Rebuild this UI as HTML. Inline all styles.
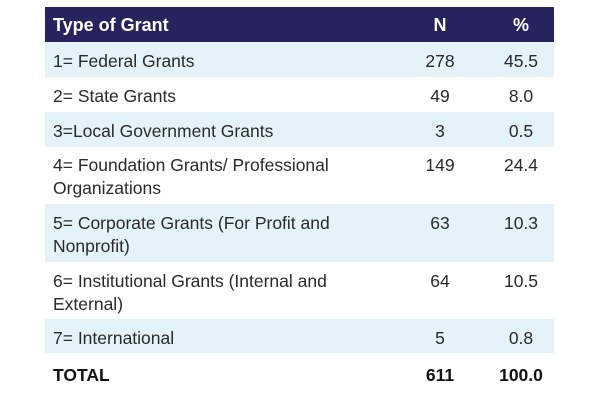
<!DOCTYPE html>
<html><head><style>
body{margin:0;width:600px;height:400px;background:#fff;font-family:"Liberation Sans",sans-serif;position:relative;overflow:hidden}
.r{position:absolute;left:45px;width:509px;color:#2a2a2a;font-size:17.5px}
.b{background:#e4f3f9}
.t{position:absolute;left:8px;line-height:23px}
.n{position:absolute;left:370px;width:50px;text-align:center;line-height:23px}
.p{position:absolute;left:448px;width:56px;text-align:center;line-height:23px}
</style></head><body>
<div class="r" style="top:7px;height:35px;background:#27235c;color:#fff;font-weight:bold;font-size:18px"><div class="t" style="top:7px">Type of Grant</div><div class="n" style="top:7px">N</div><div class="p" style="top:7px">%</div></div>
<div class="r b" style="top:42px;height:35px"><div class="t" style="top:8px">1= Federal Grants</div><div class="n" style="top:8px">278</div><div class="p" style="top:8px">45.5</div></div>
<div class="r" style="top:77px;height:35px"><div class="t" style="top:8px">2= State Grants</div><div class="n" style="top:8px">49</div><div class="p" style="top:8px">8.0</div></div>
<div class="r b" style="top:112px;height:35px"><div class="t" style="top:8px">3=Local Government Grants</div><div class="n" style="top:8px">3</div><div class="p" style="top:8px">0.5</div></div>
<div class="r" style="top:147px;height:57px"><div class="t" style="top:7px">4= Foundation Grants/ Professional<br>Organizations</div><div class="n" style="top:7px">149</div><div class="p" style="top:7px">24.4</div></div>
<div class="r b" style="top:204px;height:58px"><div class="t" style="top:8px">5= Corporate Grants (For Profit and<br>Nonprofit)</div><div class="n" style="top:8px">63</div><div class="p" style="top:8px">10.3</div></div>
<div class="r" style="top:262px;height:57px"><div class="t" style="top:8px">6= Institutional Grants (Internal and<br>External)</div><div class="n" style="top:8px">64</div><div class="p" style="top:8px">10.5</div></div>
<div class="r b" style="top:319px;height:34px"><div class="t" style="top:8px">7= International</div><div class="n" style="top:8px">5</div><div class="p" style="top:8px">0.8</div></div>
<div class="r" style="top:353px;height:39px;font-weight:bold;color:#111"><div class="t" style="top:11px">TOTAL</div><div class="n" style="top:11px">611</div><div class="p" style="top:11px">100.0</div></div>
</body></html>
